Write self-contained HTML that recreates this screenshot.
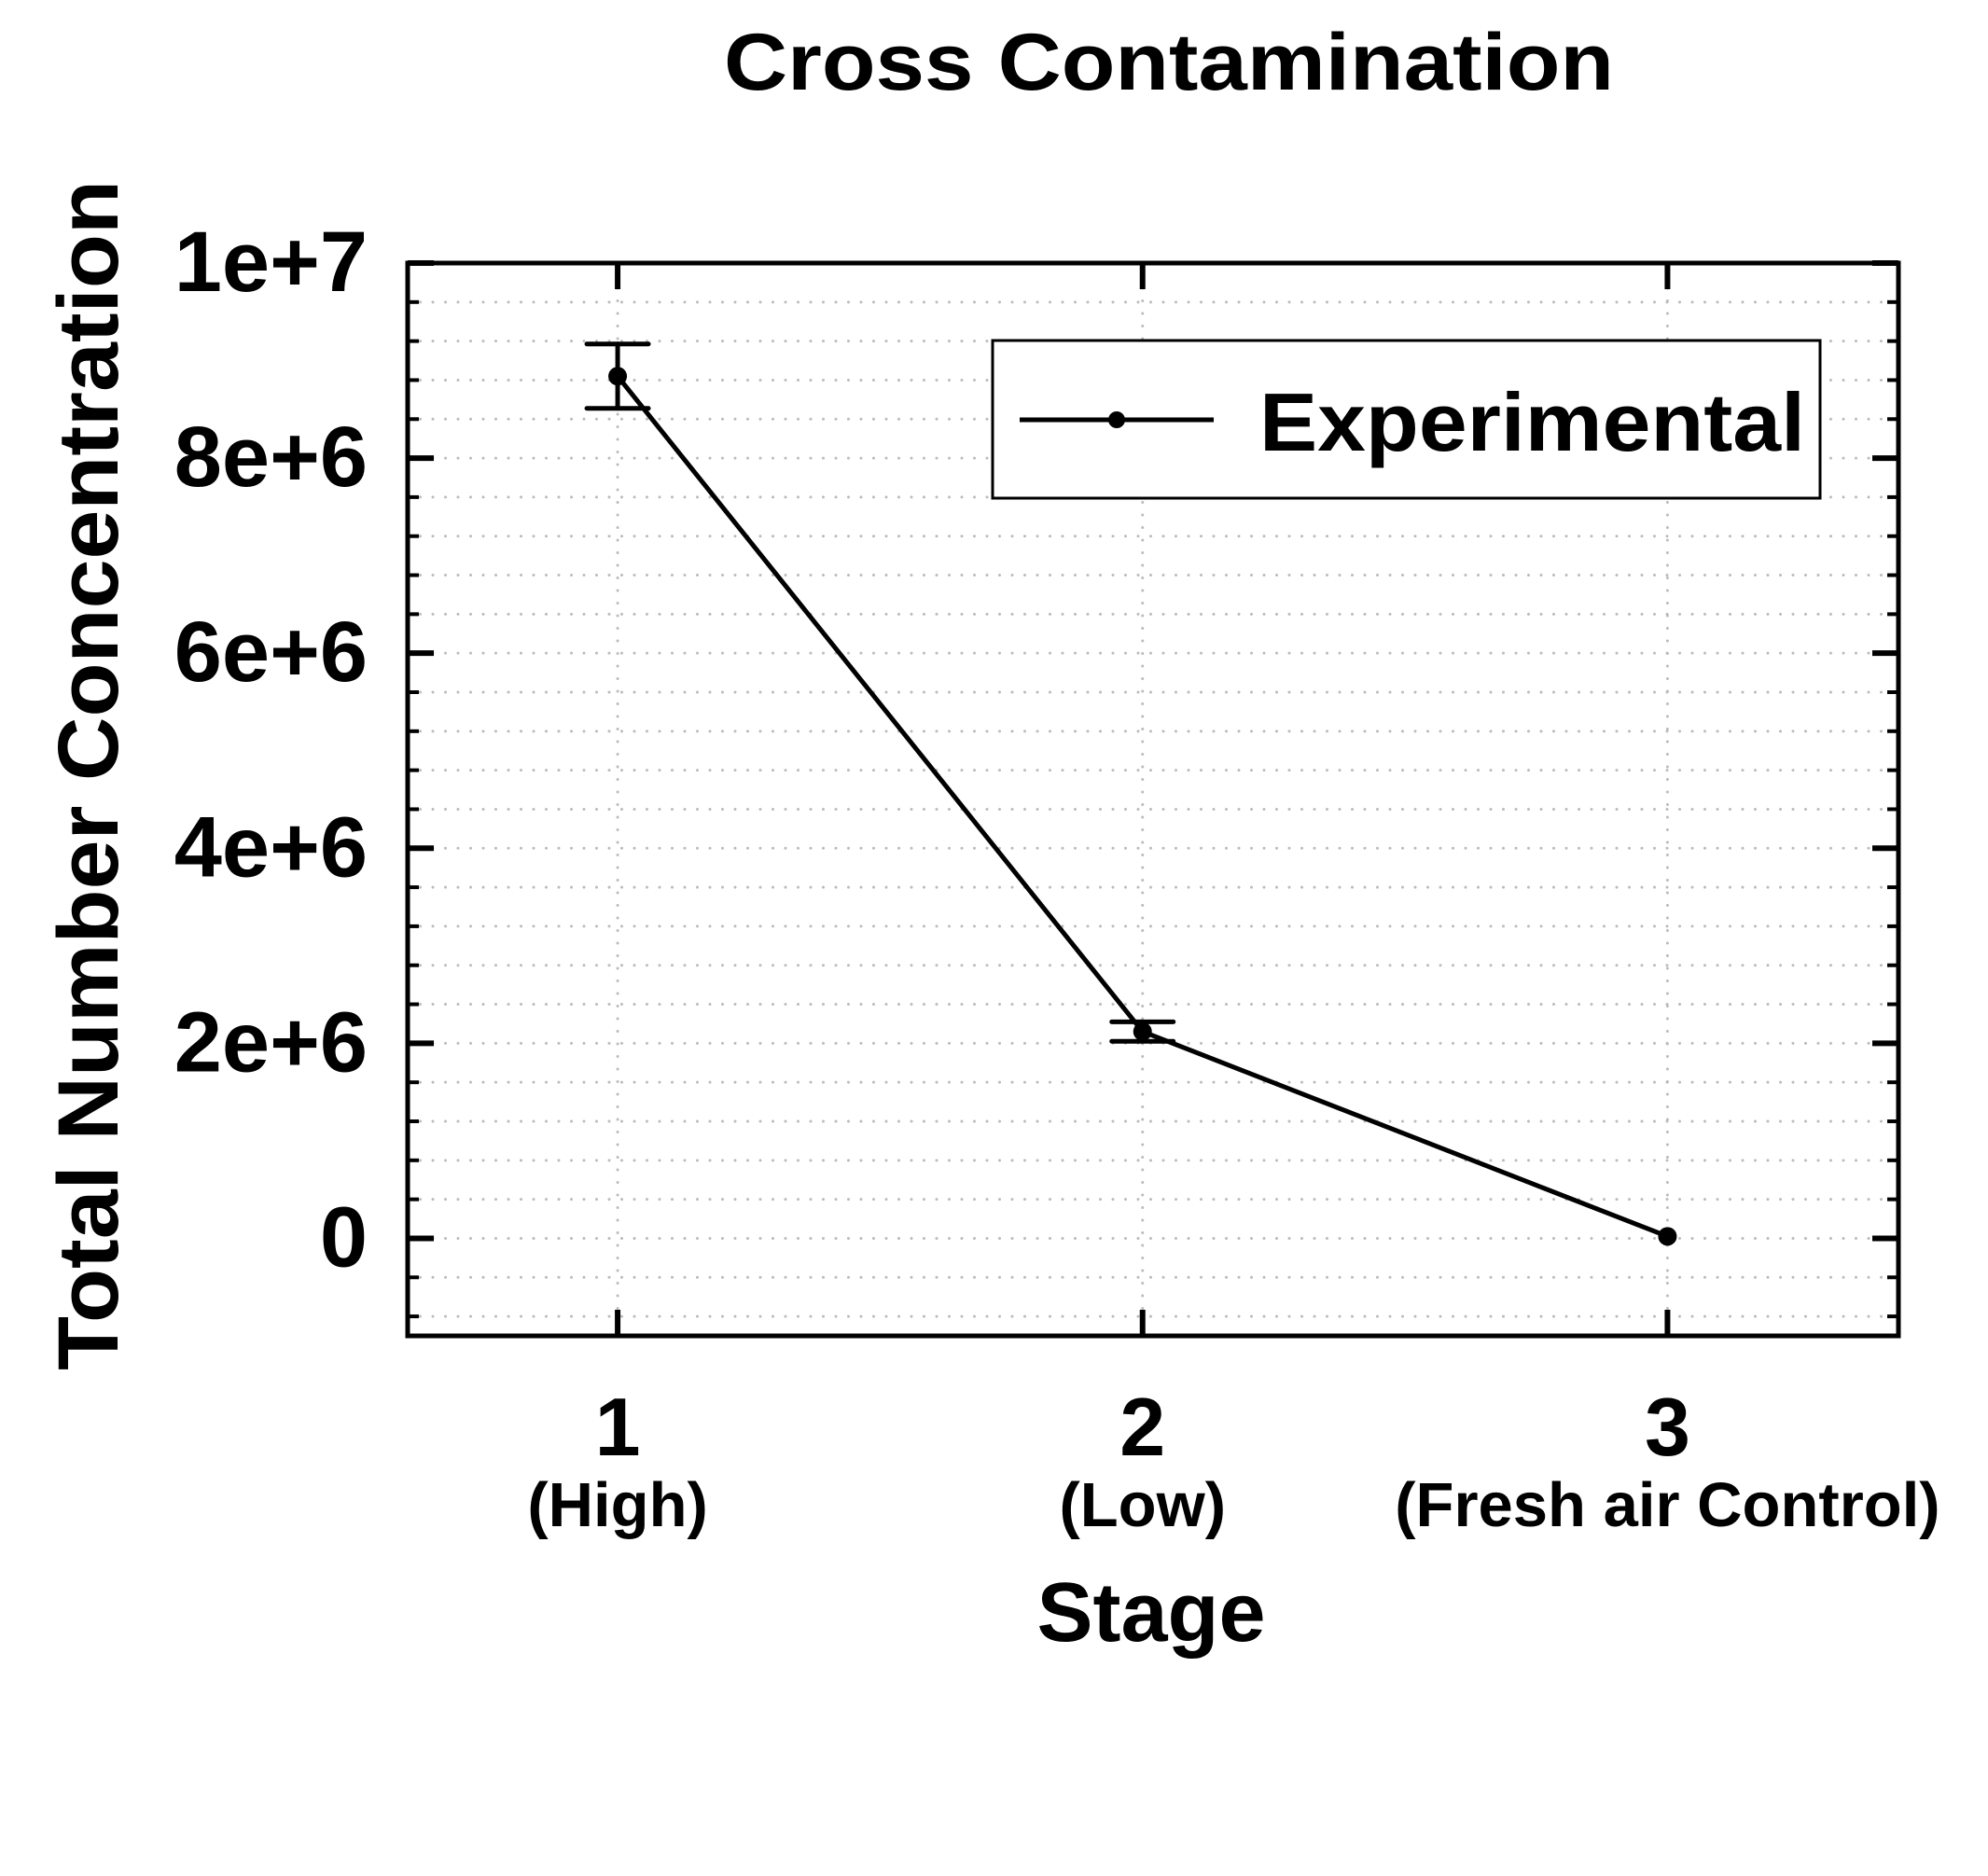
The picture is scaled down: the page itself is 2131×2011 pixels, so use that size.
<!DOCTYPE html>
<html><head><meta charset="utf-8"><style>
body{margin:0;background:#fff}
svg text{font-family:"Liberation Sans",Arial,sans-serif;font-weight:bold;fill:#000}
</style></head><body>
<svg id="chart" width="2131" height="2006" viewBox="0 0 2131 2006" xmlns="http://www.w3.org/2000/svg">
<rect width="2131" height="2006" fill="#fff"/>
<text x="1253" y="96" font-size="86" text-anchor="middle" textLength="954" lengthAdjust="spacingAndGlyphs">Cross Contamination</text>
<g id="grid"></g>
<g id="ticks"></g>
<g id="series"></g>
<rect x="437" y="282" width="1598" height="1150" fill="none" stroke="#000" stroke-width="5"/>
<text transform="translate(126,831) rotate(-90)" font-size="92" text-anchor="middle" textLength="1276" lengthAdjust="spacingAndGlyphs">Total Number Concentration</text>
<text x="1234" y="1759" font-size="90" text-anchor="middle">Stage</text>
<g>
<rect x="1064" y="365" width="887" height="169" fill="#fff" stroke="#000" stroke-width="3"/>
<line x1="1093" y1="450" x2="1301" y2="450" stroke="#000" stroke-width="5"/>
<circle cx="1197" cy="450" r="9" fill="#000"/>
<text x="1350" y="483" font-size="88" textLength="585" lengthAdjust="spacingAndGlyphs">Experimental</text>
</g>
</svg>
<script>
const categories=[1,2,3];
const catLabels=["(High)","(Low)","(Fresh air Control)"];
const values=[8.84e6,2.12e6,0.02e6];
const errors=[0.33e6,0.1e6,0];
const yTicks=[0,2e6,4e6,6e6,8e6,1e7];
const yTickLabels=["0","2e+6","4e+6","6e+6","8e+6","1e+7"];
const NS="http://www.w3.org/2000/svg";
const L=437,R=2035,T=282,B=1432;
const xMin=0.6,xMax=3.44,yMin=-1e6,yMax=1e7;
const xs=v=>L+(v-xMin)/(xMax-xMin)*(R-L);
const ys=v=>B-(v-yMin)/(yMax-yMin)*(B-T);
function mk(tag,attrs,parent){const e=document.createElementNS(NS,tag);for(const k in attrs)e.setAttribute(k,attrs[k]);parent.appendChild(e);return e;}
const grid=document.getElementById('grid'),ticks=document.getElementById('ticks'),ser=document.getElementById('series');
for(let k=-2;k<=25;k++){const v=k*4e5;const y=ys(v);
 const gl=mk('line',{x1:L,x2:R,y1:y,y2:y,stroke:'#bbb','stroke-width':3,'stroke-dasharray':'0 13.5','stroke-linecap':'round'},grid);
 
 
 const major=(k%5===0);const len=major?28:12;
 mk('line',{x1:L,x2:L+len,y1:y,y2:y,stroke:'#000','stroke-width':major?6:4},ticks);
 mk('line',{x1:R-len,x2:R,y1:y,y2:y,stroke:'#000','stroke-width':major?6:4},ticks);}
categories.forEach((c,i)=>{const x=xs(c);
 const gl=mk('line',{x1:x,x2:x,y1:T,y2:B,stroke:'#bbb','stroke-width':3,'stroke-dasharray':'0 13.5','stroke-linecap':'round'},grid);
 
 
 mk('line',{x1:x,x2:x,y1:T,y2:T+28,stroke:'#000','stroke-width':6},ticks);
 mk('line',{x1:x,x2:x,y1:B-28,y2:B,stroke:'#000','stroke-width':6},ticks);
 const t=mk('text',{x:x,y:1560,'font-size':88,'text-anchor':'middle'},ticks);t.textContent=String(c);
 
 
 const t2=mk('text',{x:x,y:1636,'font-size':67,'text-anchor':'middle'},ticks);t2.textContent=catLabels[i];
 
 });
yTicks.forEach((v,i)=>{const t=mk('text',{x:394,y:ys(v)+30,'font-size':92,'text-anchor':'end'},ticks);t.textContent=yTickLabels[i];
 
 });
const pts=categories.map((c,i)=>xs(c)+','+ys(values[i])).join(' ');
const pl=mk('polyline',{points:pts,fill:'none',stroke:'#000','stroke-width':5},ser);


categories.forEach((c,i)=>{const x=xs(c);
 if(errors[i]>0){const y1=ys(values[i]+errors[i]),y2=ys(values[i]-errors[i]);
  const g=mk('g',{stroke:'#000','stroke-width':5,'stroke-linecap':'round'},ser);
  
  
  mk('line',{x1:x,x2:x,y1:y1,y2:y2},g);mk('line',{x1:x-33,x2:x+33,y1:y1,y2:y1},g);mk('line',{x1:x-33,x2:x+33,y1:y2,y2:y2},g);}
 const p=mk('circle',{cx:x,cy:ys(values[i]),r:10,fill:'#000'},ser);
 
 });
</script>
</body></html>
